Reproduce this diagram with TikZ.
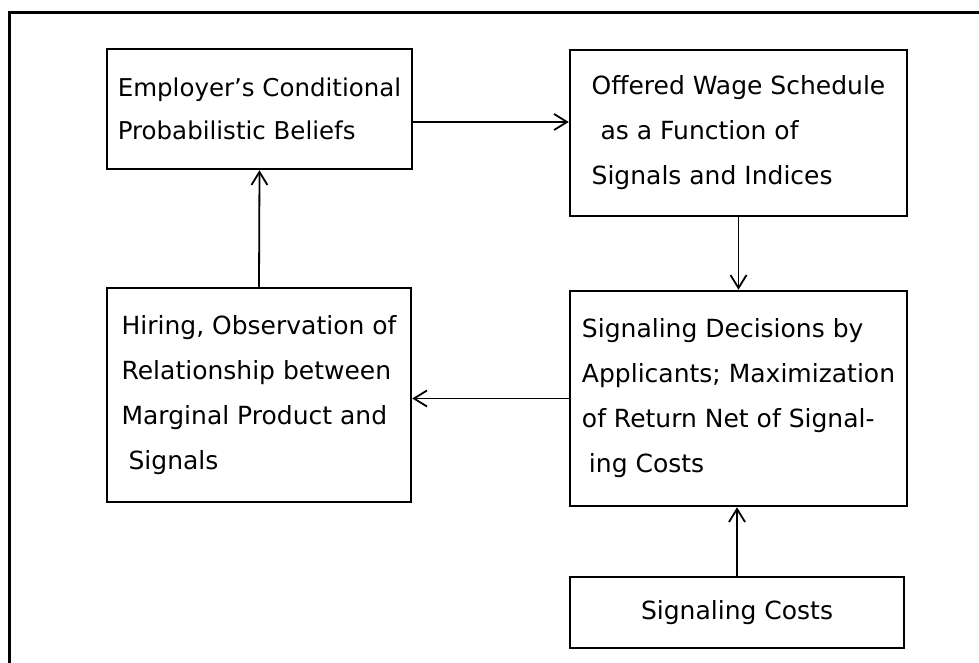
\documentclass[tikz,border=0pt]{standalone}
\usepackage{fontspec}
\setmainfont{DejaVu Sans}
\usetikzlibrary{arrows.meta}

\begin{document}
\begin{tikzpicture}[x=1pt,y=-1pt,
  box/.style={draw,line width=2.5pt,rectangle,align=left,
    font=\fontsize{25}{45}\selectfont},
  link/.style={line width=1.8pt,-{Straight Barb[length=13pt,width=16pt,line width=1.8pt]}}]
\useasboundingbox (0,0) rectangle (979,663);
\draw[line width=3pt] (979,12.5) -- (9.5,12.5) -- (9.5,663); % cadre
\node[box,font=\fontsize{24.5}{43}\selectfont,minimum width=305pt,minimum height=120pt] (beliefs) at (259.5,109)
  {Employer's Conditional\\Probabilistic Beliefs};
\node[box,minimum width=337pt,minimum height=166pt] (wage) at (738.5,133)
  {Offered Wage Schedule\\\hspace*{9pt}as a Function of\\Signals and Indices};
\node[box,minimum width=304pt,minimum height=214pt] (hiring) at (259,395)
  {Hiring, Observation of\\Relationship between\\Marginal Product and\\\hspace*{7pt}Signals};
\node[box,minimum width=337pt,minimum height=215pt] (decide) at (738.5,398.5)
  {Signaling Decisions by\\Applicants; Maximization\\of Return Net of Signal-\\\hspace*{7pt}ing Costs};
\node[box,minimum width=334pt,minimum height=71pt,align=center] (costs) at (737,612.5)
  {Signaling Costs};
\draw[link] ([yshift=-13pt]beliefs.east) -- ([yshift=-13pt]beliefs.east -| wage.west);
\draw[link] (wage.south) -- (decide.north);
\draw[link] (decide.west) -- (decide.west -| hiring.east);
\draw[link] (hiring.north) -- (beliefs.south);
\draw[link] (costs.north) -- (costs.north |- decide.south);
\end{tikzpicture}
\end{document}
